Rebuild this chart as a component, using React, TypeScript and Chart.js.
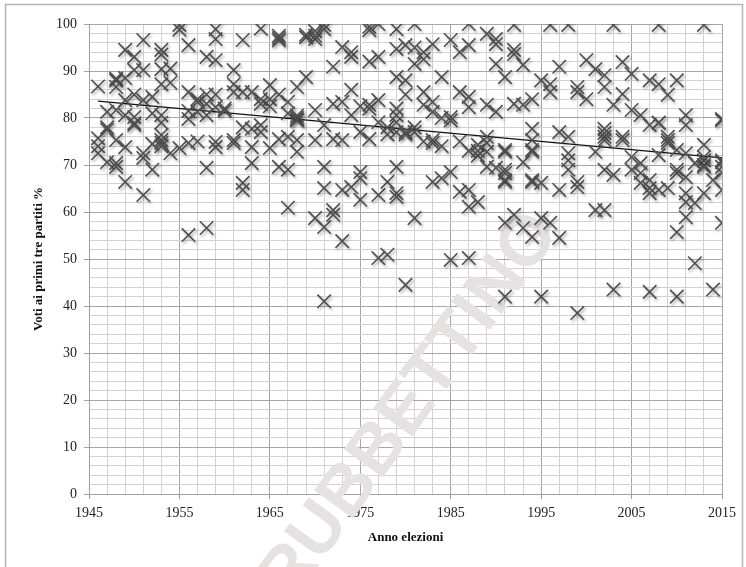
import React, { useEffect, useRef } from "react";
import { Chart, registerables } from "chart.js";

Chart.register(...registerables);

const electionYears = [
  1946, 1947, 1948, 1949, 1950, 1951, 1952, 1953, 1954, 1955, 1956, 1957, 1958, 1959, 1960,
  1961, 1962, 1963, 1964, 1965, 1966, 1967, 1968, 1969, 1970, 1971, 1972, 1973, 1974, 1975,
  1976, 1977, 1978, 1979, 1980, 1981, 1982, 1983, 1984, 1985, 1986, 1987, 1988, 1989, 1990,
  1991, 1992, 1993, 1994, 1995, 1996, 1997, 1998, 1999, 2000, 2001, 2002, 2003, 2004, 2005,
  2006, 2007, 2008, 2009, 2010, 2011, 2012, 2013, 2014, 2015,
];

const votesByYear: number[][] = [
  [86.7, 75.7, 72.5, 74],
  [78, 77.5, 70.6, 81.3],
  [88, 86.6, 81.7, 75.3, 70.4, 69.6, 88.4],
  [94.5, 88.5, 83.8, 73.8, 66.4, 80.6],
  [93, 90.2, 80.2, 78.9, 78.5, 85],
  [96.6, 90.2, 83.8, 72.5, 71.5, 63.6],
  [84.5, 69, 74.5, 81],
  [94.5, 93.5, 90.4, 87.2, 80.6, 79, 76.4, 75.3, 74.7, 74],
  [90.5, 87.5, 72.5],
  [99.8, 98.8, 73.6],
  [95.5, 85.5, 79.8, 74.7, 55.1, 81.5],
  [84, 81.3, 83.4, 75],
  [93, 85, 80.6, 69.4, 56.6, 83],
  [98.9, 96.8, 92.3, 85, 73.8, 74.9, 82.3],
  [82, 81.5],
  [90.2, 87.2, 85.5, 75.3, 74.7],
  [96.6, 85.5, 66.2, 64.7, 78],
  [85.5, 77.7, 73.8, 70.4],
  [99, 84, 78.5, 77, 83],
  [87, 84, 73.6, 82.5],
  [97.5, 97, 96.5, 75.5, 69.6, 85],
  [83.4, 69, 60.9, 76, 81],
  [86.6, 80, 79.5, 80.5, 72.8, 79.6, 75.3],
  [97.2, 88.7, 97.7],
  [96.8, 98.5, 81.7, 58.7, 75.3, 97.5],
  [99.8, 98.9, 78.5, 69.6, 65.1, 56.8, 41],
  [90.9, 75.5, 60.4, 59.4, 83],
  [95.1, 83.4, 64.7, 53.8, 75.3],
  [94, 93, 86, 80.6, 65.3],
  [68.5, 67.2, 62.6, 82.5, 77],
  [99.4, 92, 82.8, 82, 75.5, 98.7],
  [93, 83.8, 79.1, 63.6, 50.2, 100],
  [66.4, 50.9, 78, 76.5],
  [98.9, 94.7, 88.7, 82, 80.6, 79.1, 69.6, 64, 63.2, 77],
  [88, 95.5, 77, 76.5, 44.5, 85],
  [100, 95, 91.5, 78, 58.7, 77],
  [94, 92.5, 85.5, 82.8, 75],
  [95.7, 83.4, 81.3, 75.3, 74.7, 66.4],
  [88.7, 67.2, 74, 80],
  [96.6, 80.2, 68.5, 49.8, 79.5],
  [94, 85.5, 64.3, 75],
  [100, 95.5, 84.5, 82.3, 64.7, 61.1, 50.2, 73],
  [62.1, 74.3, 72, 73],
  [97.9, 82.8, 69.6, 72.8, 74.7, 76],
  [96.8, 95.7, 91.5, 81.3, 69.4],
  [88.7, 72.8, 73.2, 69, 68.3, 66.4, 66.8, 57.7, 42],
  [99.8, 94.5, 93.6, 83, 59.4],
  [91.3, 82.8, 70.6, 56.6],
  [84, 77.7, 75.3, 73.2, 72.8, 66.4, 66.8, 54.7],
  [88, 66.2, 58.7, 42],
  [99.8, 87.2, 85.5, 57.7],
  [90.9, 77, 64.7, 54.5],
  [99.8, 76, 72.5, 71, 69],
  [86.6, 85.5, 66.4, 65.3, 38.5],
  [92.3, 84],
  [90.4, 72.8, 60.4],
  [89.1, 86.6, 77.7, 76, 76.8, 75.3, 69, 60.4],
  [99.8, 82.8, 67.9, 43.5],
  [91.9, 85.1, 76, 75.3],
  [89.4, 81.7, 71.7, 69],
  [80.6, 70.4, 68.3, 66.2],
  [88, 78.5, 65.1, 64, 66.8, 43],
  [99.8, 87.2, 79, 79, 72.1, 64.7],
  [84.9, 76, 75.3, 74.7, 65.1],
  [88, 68.3, 73.2, 69, 55.7, 42],
  [80.6, 78.5, 72.5, 64, 62.1, 58.9, 67.4],
  [70.4, 61.9, 49.1],
  [99.8, 74.3, 71, 70, 69.6, 71.7, 64],
  [66.8, 43.5],
  [79.8, 79.5, 71, 70.6, 69.6, 68.3, 64.7, 57.7],
];

const trendYears = [1946, 2015];
const trendValues = [83.6, 71.5];

const xMin = 1945;
const xMax = 2015;
const yMin = 0;
const yMax = 100;

const serif = "'Liberation Serif', 'Times New Roman', serif";

const outerBorder = {
  id: "outerBorder",
  beforeDraw(chart: any) {
    const ctx = chart.ctx;
    ctx.save();
    ctx.fillStyle = "#ffffff";
    ctx.fillRect(0, 0, chart.width, chart.height);
    ctx.strokeStyle = "#b4b4b4";
    ctx.lineWidth = 1.5;
    ctx.strokeRect(5.5, 4.5, 737, 620);
    ctx.restore();
  },
};

const watermark = {
  id: "watermark",
  beforeDatasetsDraw(chart: any) {
    const ctx = chart.ctx;
    ctx.save();
    ctx.translate(410, 407);
    ctx.rotate(-54 * Math.PI / 180);
    ctx.font = "bold 70px 'Liberation Sans', Arial, sans-serif";
    ctx.fillStyle = "#e7e2e2";
    ctx.textAlign = "center";
    ctx.textBaseline = "middle";
    ctx.fillText("RUBBETTINO", 0, 0);
    ctx.restore();
  },
};

const markerShadow = {
  id: "markerShadow",
  beforeDatasetDraw(chart: any, args: any) {
    if (args.index !== 0) return;
    const ctx = chart.ctx;
    ctx.save();
    ctx.shadowColor = "rgba(0,0,0,0.35)";
    ctx.shadowBlur = 3;
    ctx.shadowOffsetX = 1.5;
    ctx.shadowOffsetY = 2;
  },
  afterDatasetDraw(chart: any, args: any) {
    if (args.index !== 0) return;
    chart.ctx.restore();
  },
};

export default function App() {
  const canvasRef = useRef<HTMLCanvasElement>(null);

  useEffect(() => {
    document.body.style.margin = "0";
    const points: { x: number; y: number }[] = [];
    electionYears.forEach((yr, i) => {
      votesByYear[i].forEach((v) => points.push({ x: yr, y: v }));
    });
    const trend = trendYears.map((yr, i) => ({ x: yr, y: trendValues[i] }));

    const chart = new Chart(canvasRef.current as HTMLCanvasElement, {
      type: "scatter",
      data: {
        datasets: [
          {
            data: points,
            pointStyle: "crossRot",
            pointRadius: 9.5,
            pointBorderColor: "#4f4f4f",
            pointBackgroundColor: "#4f4f4f",
            pointBorderWidth: 1.6,
            showLine: false,
          },
          {
            type: "line",
            data: trend,
            borderColor: "#111111",
            borderWidth: 1.3,
            pointRadius: 0,
            showLine: true,
            fill: false,
          },
        ],
      } as any,
      options: {
        responsive: false,
        animation: false,
        layout: { padding: { top: 24, right: 24, left: 0, bottom: 0 } },
        plugins: {
          legend: { display: false },
          tooltip: { enabled: false },
        },
        scales: {
          x: {
            type: "linear",
            min: xMin,
            max: xMax,
            afterFit(scale: any) {
              scale.height = 73;
            },
            border: { color: "#a0a0a0", width: 1 },
            grid: {
              color: (c: any) => ((c.tick.value - xMin) % 10 === 0 ? "#a6a6a6" : "#d2d2d2"),
              tickColor: (c: any) => ((c.tick.value - xMin) % 10 === 0 ? "#a0a0a0" : "rgba(0,0,0,0)"),
              tickLength: 5,
              lineWidth: 1,
            },
            ticks: {
              stepSize: 2,
              autoSkip: false,
              maxRotation: 0,
              padding: 6,
              color: "#222222",
              font: { family: serif, size: 14 },
              callback: (v: any) => ((v - xMin) % 10 === 0 ? String(v) : ""),
            },
            title: {
              display: true,
              text: "Anno elezioni",
              color: "#111111",
              font: { family: serif, size: 13, weight: "bold" },
              padding: { top: 0, bottom: 22 },
            },
          },
          y: {
            type: "linear",
            min: yMin,
            max: yMax,
            afterFit(scale: any) {
              scale.width = 89;
            },
            border: { color: "#a0a0a0", width: 1 },
            grid: {
              color: (c: any) => (c.tick.value % 10 === 0 ? "#a6a6a6" : "#d2d2d2"),
              tickColor: (c: any) => (c.tick.value % 10 === 0 ? "#a0a0a0" : "rgba(0,0,0,0)"),
              tickLength: 5,
              lineWidth: 1,
            },
            ticks: {
              stepSize: 2,
              autoSkip: false,
              padding: 7,
              color: "#222222",
              font: { family: serif, size: 14 },
              callback: (v: any) => (v % 10 === 0 ? String(v) : ""),
            },
            title: {
              display: true,
              text: "Voti ai primi tre partiti %",
              color: "#111111",
              font: { family: serif, size: 13, weight: "bold" },
              padding: { top: 31, bottom: 0 },
            },
          },
        },
      } as any,
      plugins: [outerBorder, watermark, markerShadow],
    });
    return () => chart.destroy();
  }, []);

  return (
    <div style={{ width: 746, height: 567, overflow: "hidden" }}>
      <canvas ref={canvasRef} width={746} height={567} />
    </div>
  );
}
